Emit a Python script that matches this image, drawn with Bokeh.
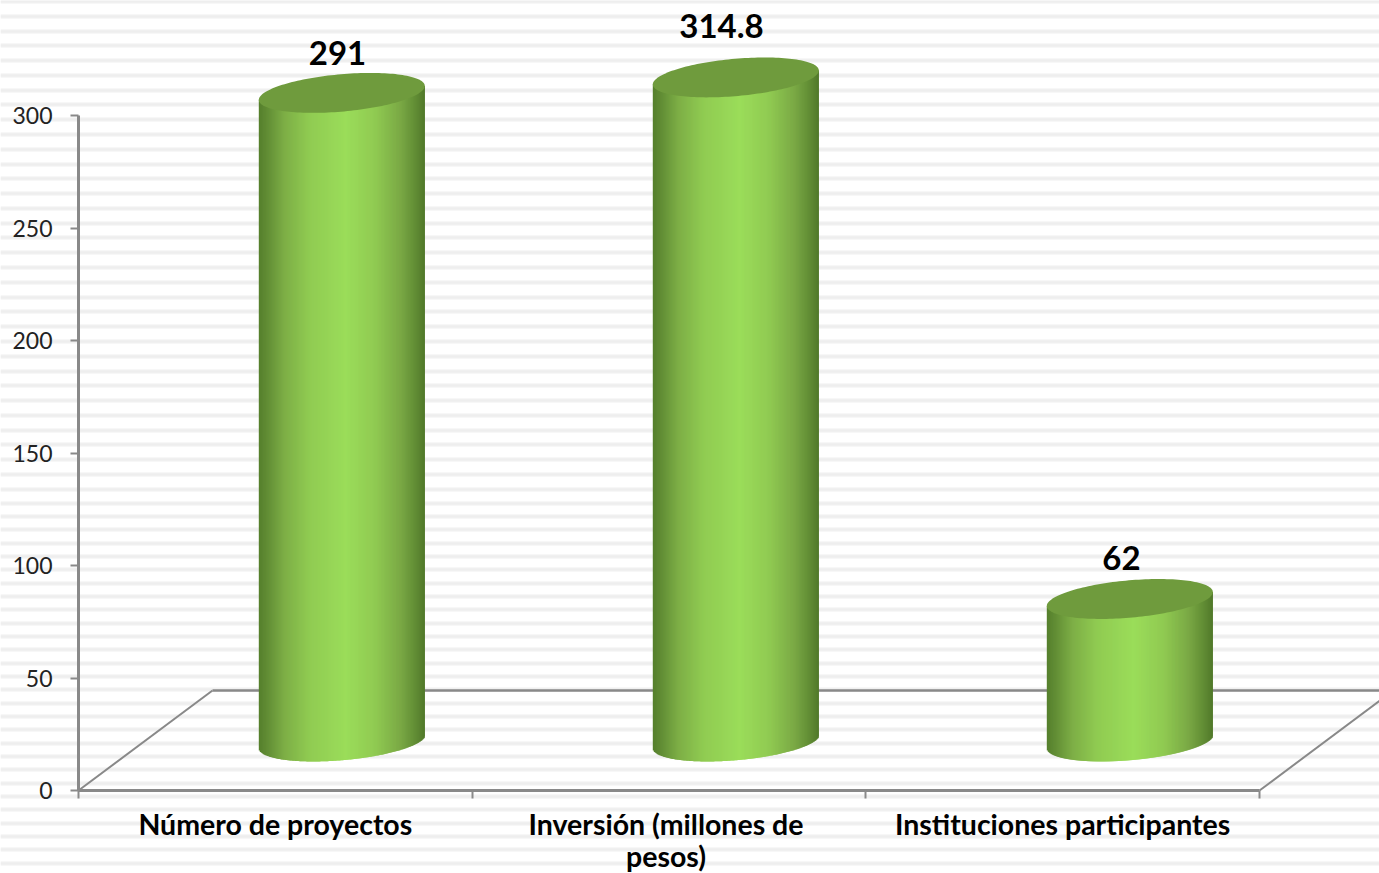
import numpy as np
from bokeh.plotting import figure
from bokeh.models import Range1d, FixedTicker
from bokeh.core.properties import value
from bokeh.embed import file_html
from bokeh.resources import INLINE

categories = ["Número de proyectos", "Inversión (millones de\npesos)", "Instituciones participantes"]
values = [291, 314.8, 62]
value_labels = ["291", "314.8", "62"]
y_ticks = [0, 50, 100, 150, 200, 250, 300]
x_ticks = [0, 1, 2, 3]

W, H = 1379, 873
X0, SX = 78.0, 393.67      # page px of x=0, px per category
Y0, SY = 790.0, 2.25       # page px of y=0, px per unit
FONT = "Lato"
AXIS = "#898989"

def xd(px):
    return (px - X0) / SX
def yd(py):
    return (Y0 - py) / SY

p = figure(width=W, height=H, output_backend="svg", toolbar_location=None,
           x_range=Range1d(xd(0), xd(W)), y_range=Range1d(yd(H), yd(0)),
           min_border=0, min_border_left=0, min_border_right=0, min_border_top=0, min_border_bottom=0,
           outline_line_color=None, background_fill_color="white", border_fill_color="white",
           margin=(0, 0, 0, 0))
p.grid.visible = False

# striped backdrop: two bands with a different pitch
stripes = list(np.arange(1, 490, 14.78)) + list(np.arange(489.3 + 13.33, 870, 13.33))
stripe_y = [yd(s) for s in stripes]
p.hspan(y=stripe_y, line_color="#f7f7f7", line_width=5)
p.hspan(y=stripe_y, line_color="#eeeeee", line_width=2.5)

# floor of the 3D box
DX, DY = 134 / SX, 100 / SY
p.line([0, DX], [0, DY], line_color=AXIS, line_width=2)
p.line([DX, 3 + DX], [DY, DY], line_color=AXIS, line_width=2.5)
p.line([3, 3 + DX], [0, DY], line_color=AXIS, line_width=2)

# cylinders
STOPS = [0, .05, .15, .30, .52, .70, .85, .95, 1]
COLS = ["#56802d", "#628e35", "#7dae46", "#90cb52", "#9bdd5a", "#90ca52", "#7aa945", "#5f8a33", "#50772a"]
RGB = np.array([[int(c[i:i + 2], 16) for i in (1, 3, 5)] for c in COLS], dtype=float)
def shade(f):
    return "#%02x%02x%02x" % tuple(int(round(np.interp(f, STOPS, RGB[:, k]))) for k in range(3))

A_PX, B_PX, K = 83.0, 18.7, 0.084
BOTTOM_PY = 741.0
TOP_BASE_PY, RISE = 735.5, 2.21
CLIP = 298.0       # the tallest bar is cut by the axis maximum
BAR_START_PX = 341.3
BAR_STEP_PX = 394.0
TOP_COLOR = "#6f9b3d"
LABEL_OFF = [(-4.3, 39.5), (-14.3, 51), (-8.3, 40.5)]

lab_x, lab_y = [], []
for i, v in enumerate(values):
    cx_px = BAR_START_PX + i * BAR_STEP_PX
    top_py = TOP_BASE_PY - min(v, CLIP) * RISE
    u = np.arange(-A_PX, A_PX, 1.0)
    c = (u + 0.5) / A_PX
    low = BOTTOM_PY + B_PX * np.sqrt(np.clip(1 - c ** 2, 0, 1)) - K * (u + 0.5)
    upper = top_py - K * (u + 0.5)
    p.quad(left=xd(cx_px + u), right=xd(np.minimum(cx_px + u + 2, cx_px + A_PX)),
           bottom=yd(low), top=yd(upper),
           fill_color=[shade((x + A_PX) / (2 * A_PX)) for x in u], line_color=None)
    t = np.linspace(0, 2 * np.pi, 160)
    ex = A_PX * np.cos(t)
    ey = top_py + B_PX * np.sin(t) - K * ex
    p.patch(xd(cx_px + ex), yd(ey), fill_color=TOP_COLOR, line_color=None)
    lab_x.append(xd(cx_px + LABEL_OFF[i][0]))
    lab_y.append(yd(top_py - LABEL_OFF[i][1]))

p.text(lab_x, lab_y, text=value_labels, text_font=value(FONT), text_font_style="bold",
       text_font_size="33px", text_color="black", text_align="center", text_baseline="middle")

# category labels, one text per line
CAT_NUDGE = [0, -3, 0]
cat_x, cat_y, cat_t = [], [], []
for i, c in enumerate(categories):
    for j, line in enumerate(c.split("\n")):
        cat_x.append(i + 0.5 + CAT_NUDGE[i] / SX)
        cat_y.append(yd(823.5 + 32 * j))
        cat_t.append(line)
p.text(x=cat_x, y=cat_y, text=cat_t, text_font=value(FONT),
       text_font_style="bold", text_font_size="28.5px", text_color="black", text_align="center",
       text_baseline="middle")

# axes
ya = p.yaxis[0]
ya.fixed_location = 0
ya.bounds = (0, 300)
ya.ticker = FixedTicker(ticks=y_ticks)
ya.minor_tick_line_color = None
ya.major_tick_in = 0
ya.major_tick_out = 8
ya.major_tick_line_color = AXIS
ya.major_tick_line_width = 2
ya.axis_line_color = AXIS
ya.axis_line_width = 3
ya.major_label_standoff = 18
ya.major_label_text_font = FONT
ya.major_label_text_font_size = "23px"
ya.major_label_text_color = "#222222"

xa = p.xaxis[0]
xa.fixed_location = 0
xa.bounds = (0, 3)
xa.ticker = FixedTicker(ticks=x_ticks)
xa.minor_tick_line_color = None
xa.major_tick_in = 0
xa.major_tick_out = 8
xa.major_tick_line_color = AXIS
xa.major_tick_line_width = 2
xa.axis_line_color = AXIS
xa.axis_line_width = 3
xa.major_label_text_color = None
xa.major_label_text_font_size = "1px"

open("out.html", "w").write(file_html(p, INLINE))
